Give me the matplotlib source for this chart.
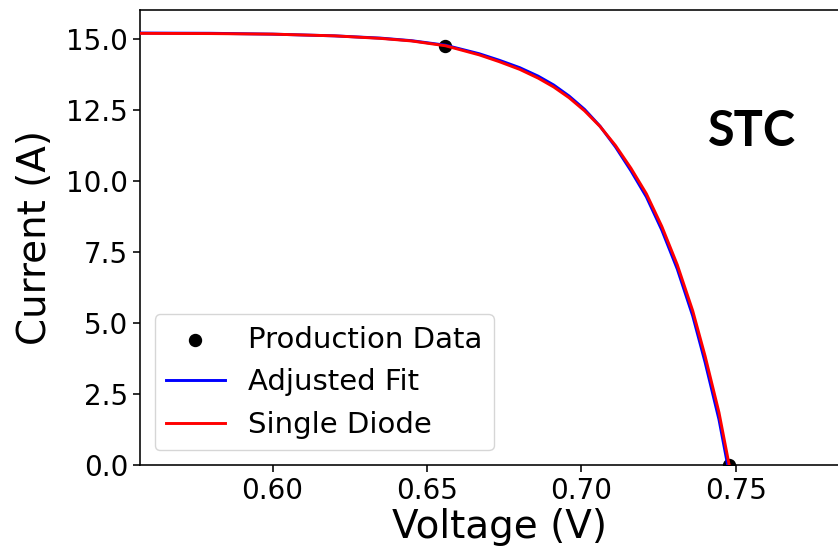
import matplotlib
matplotlib.use("Agg")
import matplotlib.pyplot as plt

# Measured production points (V, A)
prod_v = [0.6559, 0.7477]
prod_i = [14.75, 0.0]

# Single diode model curve
sd_v = [0.550, 0.580, 0.600, 0.620, 0.635, 0.645, 0.656, 0.6669, 0.6734, 0.680,
        0.686, 0.691, 0.696, 0.701, 0.706, 0.711, 0.716, 0.721, 0.726,
        0.731, 0.736, 0.740, 0.7445, 0.7478]
sd_i = [15.20, 15.19, 15.17, 15.11, 15.02, 14.93, 14.76, 14.44, 14.20, 13.93,
        13.62, 13.31, 12.93, 12.47, 11.92, 11.25, 10.45, 9.55, 8.40,
        7.05, 5.43, 3.84, 1.85, 0.00]

# Adjusted fit curve
af_v = [0.550, 0.580, 0.600, 0.620, 0.635, 0.645, 0.656, 0.6669, 0.6734, 0.680,
        0.686, 0.691, 0.696, 0.701, 0.706, 0.711, 0.716, 0.721, 0.726,
        0.731, 0.736, 0.740, 0.7445, 0.7473]
af_i = [15.21, 15.20, 15.17, 15.11, 15.03, 14.94, 14.78, 14.48, 14.25, 13.99,
        13.69, 13.38, 12.99, 12.52, 11.93, 11.20, 10.36, 9.44, 8.27,
        6.90, 5.25, 3.62, 1.60, 0.00]

x_ticks = [0.60, 0.65, 0.70, 0.75]
y_ticks = [0.0, 2.5, 5.0, 7.5, 10.0, 12.5, 15.0]

W, H = 838, 553
fig = plt.figure(figsize=(W / 100, H / 100), dpi=100)
ax = fig.add_axes([140 / W, 88 / H, 718 / W, 455 / H])

ax.scatter(prod_v, prod_i, s=74, color="black", label="Production Data", zorder=2)
ax.plot(af_v, af_i, color="blue", lw=2.1, label="Adjusted Fit", zorder=3)
ax.plot(sd_v, sd_i, color="red", lw=2.1, label="Single Diode", zorder=4)

ax.set_xlim(0.5571, 0.7895)
ax.set_ylim(0, 16.02)
ax.set_xticks(x_ticks)
ax.set_yticks(y_ticks)
ax.set_xticklabels([f"{t:.2f}" for t in x_ticks])
ax.set_yticklabels([f"{t:.1f}" for t in y_ticks])
ax.tick_params(labelsize=20, length=5, width=1.15)
for s in ax.spines.values():
    s.set_linewidth(1.15)

ax.set_xlabel("Voltage (V)", fontsize=28, labelpad=2)
ax.set_ylabel("Current (A)", fontsize=28, labelpad=9)

leg = ax.legend(loc="lower left", fontsize=21)

fig.text(752 / W, 1 - 132 / H, "STC", family="Lato", weight="bold",
         fontsize=35, ha="center", va="center")

fig.savefig("out.png", dpi=100)
